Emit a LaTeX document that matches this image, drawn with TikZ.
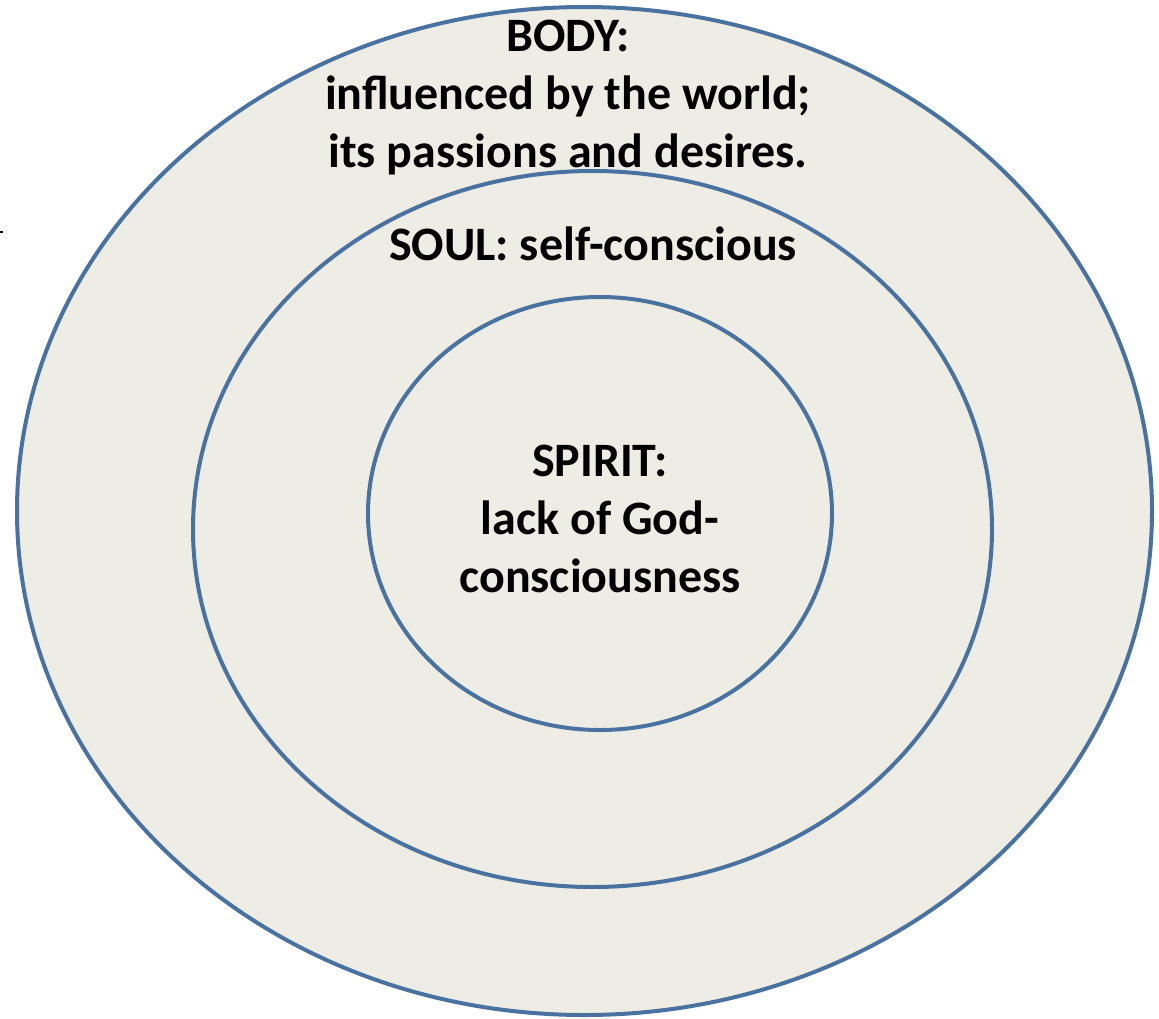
\documentclass[tikz,border=0pt]{standalone}
\usepackage{fontspec}
\setmainfont{Carlito}
\definecolor{ringfill}{RGB}{238,237,229}
\definecolor{ringline}{RGB}{74,114,160}
\begin{document}
\begin{tikzpicture}[x=1pt,y=-1pt,
  ring/.style={draw=ringline,fill=ringfill,line width=4pt},
  lbl/.style={align=center,font=\bfseries\fontsize{48}{58}\selectfont,inner sep=0pt}]
\useasboundingbox (0,0) rectangle (1159,1018);
\fill[black] (0,230.5) rectangle (2.5,232.5);
\draw[ring] (584.5,511) ellipse [x radius=567.5, y radius=504];
\draw[ring] (592.5,529) ellipse [x radius=399.5, y radius=358];
\draw[ring] (600,513.5) ellipse [x radius=232, y radius=216.5];
\node[lbl,anchor=base] (body) at (568,167) {BODY:\\influenced by the world;\\its passions and desires.};
\node[lbl,anchor=base] (soul) at (593,260) {SOUL: self-conscious};
\node[lbl,anchor=base] (spirit) at (600,592) {SPIRIT:\\lack of God-\\consciousness};
\end{tikzpicture}
\end{document}
